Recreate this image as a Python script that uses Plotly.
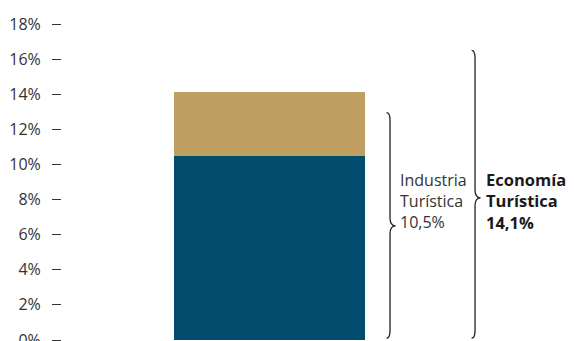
import plotly.graph_objects as go

# Data
categories = ["Economía turística"]
industria = [10.5]          # Industria Turística (%)
resto = [3.6]               # Resto hasta Economía Turística 14,1%
economia_total = [14.1]
tick_vals = [0, 2, 4, 6, 8, 10, 12, 14, 16, 18]
tick_text = [f"{v}%" for v in tick_vals]

BLUE = "#024d6e"
GOLD = "#bfa062"
TXT = "#333333"
FONT = "Open Sans"

fig = go.Figure()
fig.add_trace(go.Bar(x=[0], y=industria, width=1, marker=dict(color=BLUE, line=dict(width=0)),
                     hoverinfo="skip"))
fig.add_trace(go.Bar(x=[0], y=resto, width=1, marker=dict(color=GOLD, line=dict(width=0)),
                     hoverinfo="skip"))


def brace(x, xp, ytop, ybot, ymid, hook=0.018, c=0.45):
    return (f"M {x-hook},{ytop} Q {x},{ytop} {x},{ytop-c} "
            f"L {x},{ymid+c} Q {x},{ymid} {xp},{ymid} "
            f"Q {x},{ymid} {x},{ymid-c} "
            f"L {x},{ybot+c} Q {x},{ybot} {x-hook},{ybot}")


shapes = [
    dict(type="path", xref="x", yref="y", path=brace(0.631, 0.660, 12.95, 0.1, 6.5),
         line=dict(color="#222222", width=1.3)),
    dict(type="path", xref="x", yref="y", path=brace(1.076, 1.105, 16.5, 0.1, 8.1),
         line=dict(color="#222222", width=1.3)),
]

annotations = [
    dict(x=0.675, y=7.9, xref="x", yref="y", xanchor="left", yanchor="middle", align="left",
         showarrow=False, text=f"Industria<br>Turística<br>{str(industria[0]).replace('.', ',')}%",
         font=dict(family=FONT, size=16, color=TXT)),
    dict(x=1.125, y=7.9, xref="x", yref="y", xanchor="left", yanchor="middle", align="left",
         showarrow=False,
         text=f"<b>Economía<br>Turística<br>{str(economia_total[0]).replace('.', ',')}%</b>",
         font=dict(family=FONT, size=16.5, color="#1a1a1a")),
]

fig.update_layout(
    width=574, height=341,
    margin=dict(l=54, r=0, t=16, b=9),
    barmode="stack",
    showlegend=False,
    paper_bgcolor="white", plot_bgcolor="white",
    shapes=shapes, annotations=annotations,
    xaxis=dict(range=[-1.0864, 1.636], visible=False, fixedrange=True),
    yaxis=dict(range=[0, 18], tickvals=tick_vals, ticktext=tick_text,
               ticks="outside", ticklen=9, tickwidth=1, tickcolor="#333333",
               ticklabelstandoff=8, automargin=False, ticklabeloverflow="allow",
               showgrid=False, zeroline=False, showline=False,
               tickfont=dict(family=FONT, size=16, color=TXT)),
)

fig.write_html("out.html")
